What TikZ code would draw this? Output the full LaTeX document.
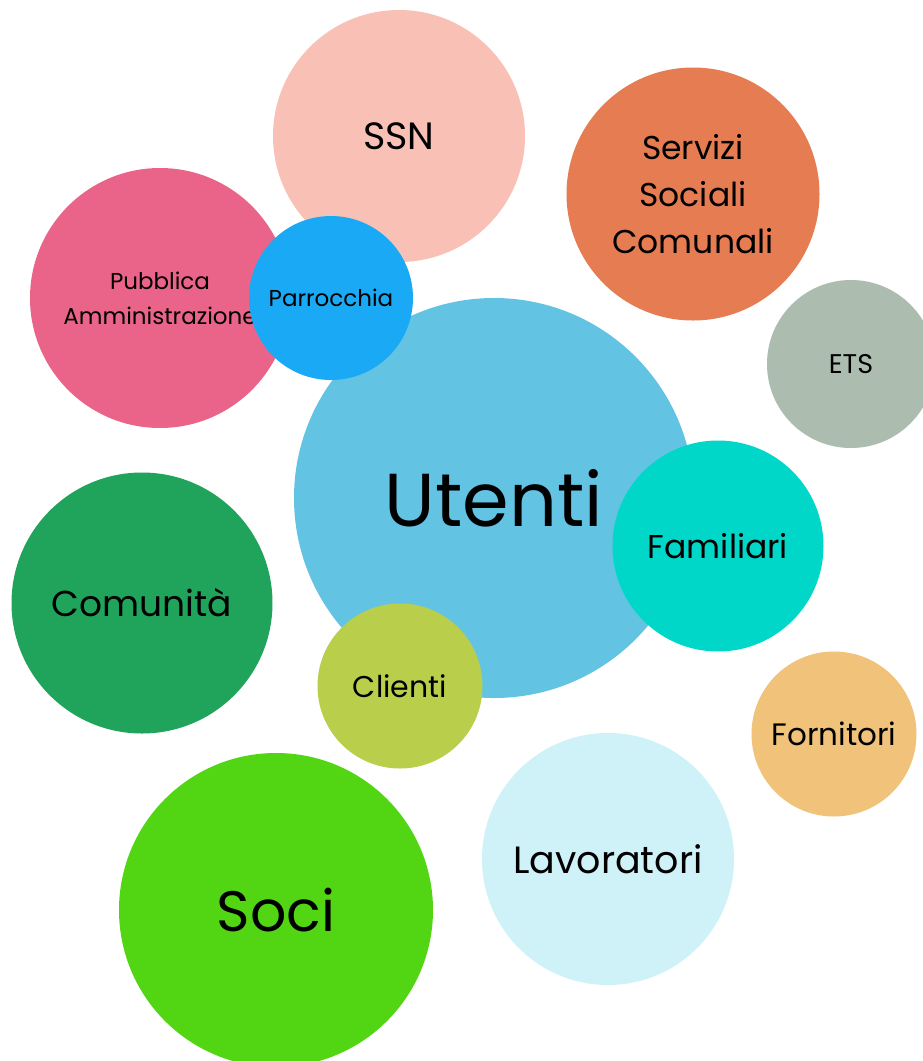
\documentclass[tikz,border=0pt]{standalone}
\usepackage{fontspec}
\setmainfont{Poppins}
\definecolor{cSSN}{HTML}{F9C1B6}
\definecolor{cServ}{HTML}{E67C52}
\definecolor{cPA}{HTML}{EA6489}
\definecolor{cParr}{HTML}{1AAAF5}
\definecolor{cETS}{HTML}{ACBDB0}
\definecolor{cUt}{HTML}{63C3E2}
\definecolor{cFam}{HTML}{00D7C9}
\definecolor{cCom}{HTML}{20A35A}
\definecolor{cCli}{HTML}{B9CF4B}
\definecolor{cForn}{HTML}{F0C27A}
\definecolor{cLav}{HTML}{CEF2F8}
\definecolor{cSoci}{HTML}{52D614}
\tikzset{
  bubble/.style={circle, inner sep=0pt, draw=none, text=black, align=center},
}
\newcommand{\fsz}[2]{\fontsize{#1}{#2}\selectfont}
\begin{document}
\begin{tikzpicture}[x=1pt,y=-1pt]
\useasboundingbox (0,0) rectangle (923,1061);
\clip (0,0) rectangle (923,1061);
\fill[white] (0,0) rectangle (923,1061);
\node[bubble, fill=cSSN, minimum size=252pt, font=\fsz{38}{46}] (ssn) at (399,136) {SSN};
\node[bubble, fill=cServ, minimum size=253pt, font=\fsz{33}{47}] (serv) at (693,194) {Servizi\\Sociali\\Comunali};
\node[bubble, fill=cPA, minimum size=260pt, font=\fsz{23}{35}] (pa) at (160,298) {Pubblica\\Amministrazione};
\node[bubble, fill=cETS, minimum size=168pt, font=\fsz{27}{32}] (ets) at (851,364) {ETS};
\node[bubble, fill=cUt, minimum size=400pt, font=\fsz{75}{90}] (ut) at (494,498) {Utenti};
\node[bubble, fill=cParr, minimum size=164pt, font=\fsz{23}{28}] (parr) at (331,298) {Parrocchia};
\node[bubble, fill=cFam, minimum size=211pt, font=\fsz{33}{40}] (fam) at (718,546) {Familiari};
\node[bubble, fill=cCom, minimum size=261pt, font=\fsz{36}{44}] (com) at (142,603) {Comunità};
\node[bubble, fill=cCli, minimum size=165pt, font=\fsz{30}{36}] (cli) at (400,686) {Clienti};
\node[bubble, fill=cForn, minimum size=165pt, font=\fsz{31}{37}] (forn) at (834,734) {Fornitori};
\node[bubble, fill=cLav, minimum size=252pt, font=\fsz{38}{46}] (lav) at (608,859) {Lavoratori};
\node[bubble, fill=cSoci, minimum size=314pt, font=\fsz{57}{68}] (soci) at (276,910) {Soci};
\end{tikzpicture}
\end{document}
